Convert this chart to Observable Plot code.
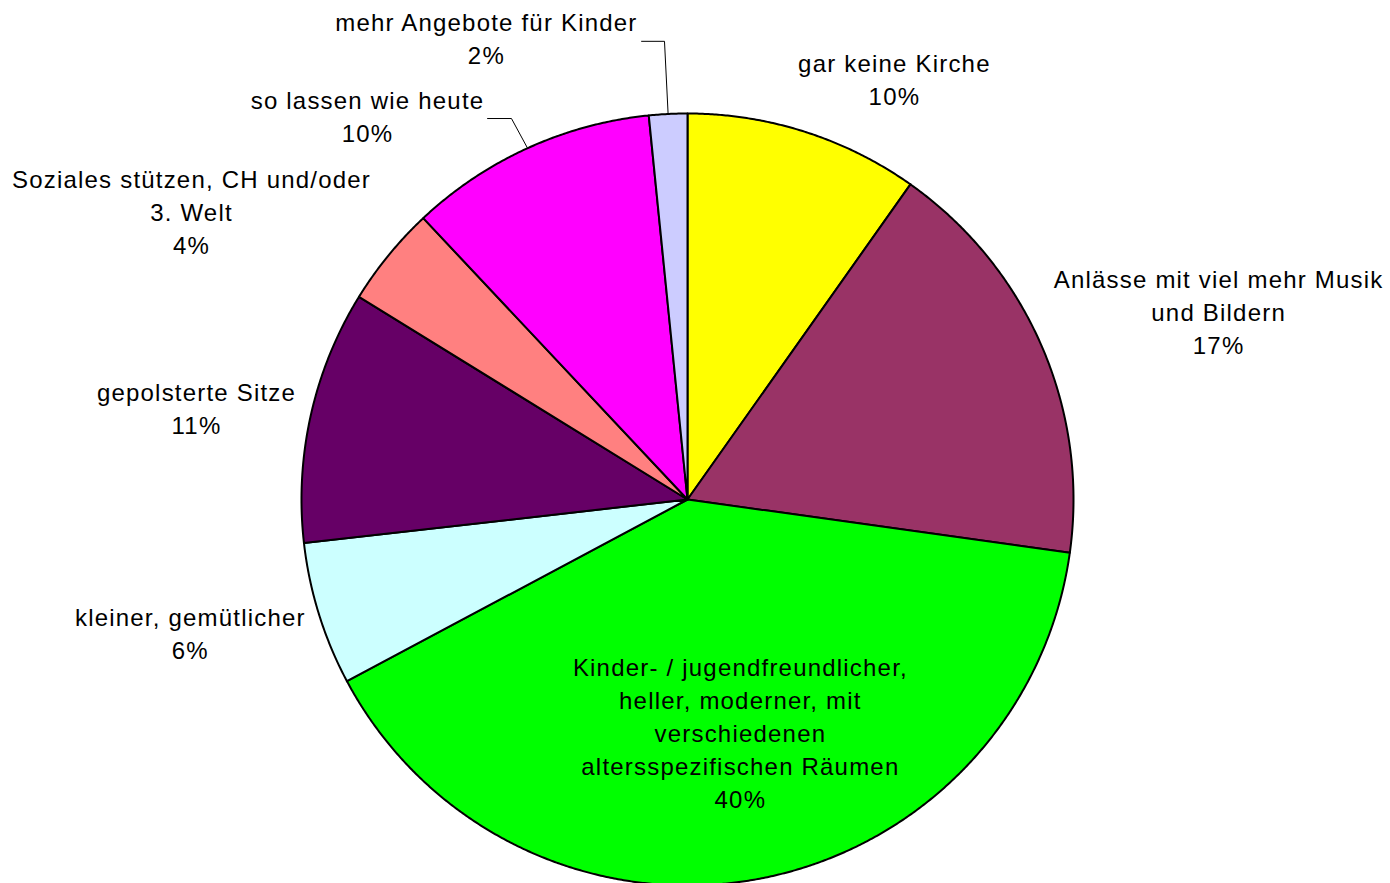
<!DOCTYPE html>
<html>
<head>
<meta charset="utf-8">
<script src="https://cdn.jsdelivr.net/npm/d3@7"></script>
<script src="https://cdn.jsdelivr.net/npm/@observablehq/plot@0.6"></script>
<style>
  html, body { margin: 0; padding: 0; background: #fff; }
  #chart svg text { letter-spacing: 1.2px; }
</style>
</head>
<body>
<div id="chart"></div>
<script>
// ---- Data ----
const categories = [
  "gar keine Kirche",
  "Anlässe mit viel mehr Musik\nund Bildern",
  "Kinder- / jugendfreundlicher,\nheller, moderner, mit\nverschiedenen\naltersspezifischen Räumen",
  "kleiner, gemütlicher",
  "gepolsterte Sitze",
  "Soziales stützen, CH und/oder\n3. Welt",
  "so lassen wie heute",
  "mehr Angebote für Kinder"
];
const values = [9.8, 17.4, 40.0, 6.0, 10.6, 4.2, 10.4, 1.6];
const percentLabels = ["10%", "17%", "40%", "6%", "11%", "4%", "10%", "2%"];
const colors = ["#FFFF00", "#993366", "#00FF00", "#CCFFFF", "#660066", "#FF8080", "#FF00FF", "#CCCCFF"];

// ---- Layout (label anchors in pie-radius units, leader elbows) ----
const labelPos = [
  [0.536, 1.091], [1.376, 0.490], [0.137, -0.601], [-1.288, -0.342],
  [-1.272, 0.241], [-1.285, 0.749], [-0.829, 0.995], [-0.521, 1.198]
];
const leaders = [
  {index: 6, elbow: [[-0.518, 0.987], [-0.456, 0.987]]},
  {index: 7, elbow: [[-0.119, 1.187], [-0.0596, 1.187]]}
];

// ---- Geometry from data ----
const arcs = d3.pie().sort(null).value(d => d)(values);
const slicePts = [];
arcs.forEach((a, i) => {
  slicePts.push({name: categories[i], color: colors[i], x: 0, y: 0});
  const n = Math.max(8, Math.ceil((a.endAngle - a.startAngle) / 0.005));
  for (let k = 0; k <= n; k++) {
    const t = a.startAngle + (a.endAngle - a.startAngle) * k / n;
    slicePts.push({name: categories[i], color: colors[i], x: Math.sin(t), y: Math.cos(t)});
  }
});
const labels = categories.map((c, i) => ({
  text: c + "\n" + percentLabels[i], x: labelPos[i][0], y: labelPos[i][1]
}));
const leaderPts = [];
leaders.forEach(l => {
  const a = arcs[l.index];
  const m = (a.startAngle + a.endAngle) / 2;
  l.elbow.forEach(p => leaderPts.push({id: l.index, x: p[0], y: p[1]}));
  leaderPts.push({id: l.index, x: Math.sin(m), y: Math.cos(m)});
});

const R = 386, cx = 687, cy = 499, W = 1390, H = 883;
const chart = Plot.plot({
  width: W, height: H, margin: 0,
  x: {domain: [-cx / R, (W - cx) / R], axis: null},
  y: {domain: [-(H - cy) / R, cy / R], axis: null},
  style: {fontFamily: "'Liberation Sans', Arial, sans-serif", background: "#fff"},
  marks: [
    Plot.line(slicePts, {x: "x", y: "y", z: "name", fill: "color", stroke: "black",
      strokeWidth: 2, curve: "linear-closed", strokeLinejoin: "round"}),
    Plot.line(leaderPts, {x: "x", y: "y", z: "id", stroke: "black", strokeWidth: 1}),
    Plot.text(labels, {x: "x", y: "y", text: "text", fontSize: 24, lineHeight: 1.375,
      fill: "black", textAnchor: "middle"})
  ]
});
document.getElementById("chart").appendChild(chart);
</script>
</body>
</html>
